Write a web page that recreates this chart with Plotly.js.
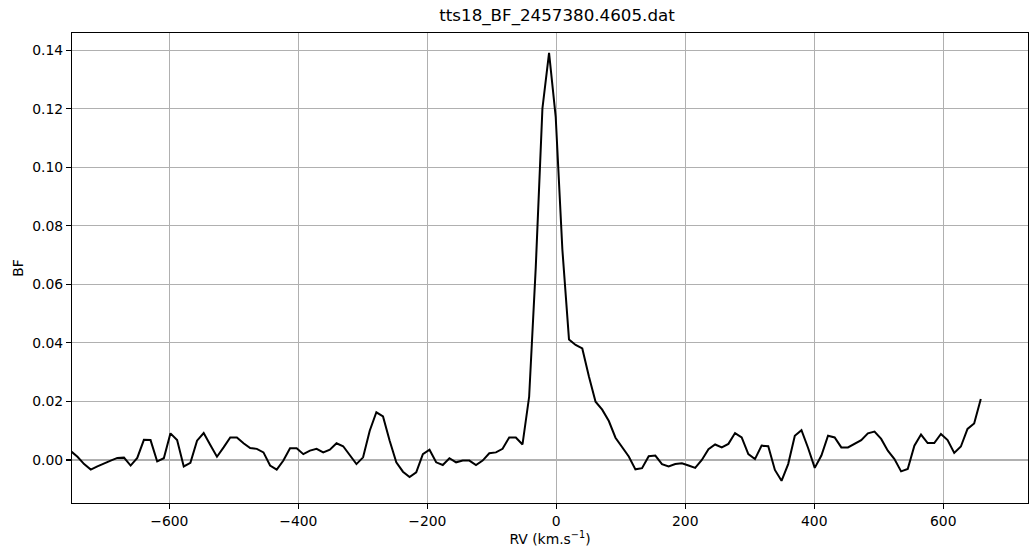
<!DOCTYPE html>
<html>
<head>
<meta charset="utf-8">
<script src="https://cdn.plot.ly/plotly-3.0.1.min.js"></script>
<style>
html,body{margin:0;padding:0;background:#fff;}
#chart{width:1030px;height:553px;}
</style>
</head>
<body>
<div id="chart"></div>
<script>
// Radial velocity grid (km/s)
const rv = [
-752.8,-742.5,-732.2,-721.9,-711.6,-701.3,-691.0,-680.7,-670.4,-660.1,
-649.8,-639.5,-629.2,-618.9,-608.6,-598.3,-588.0,-577.7,-567.4,-557.1,
-546.8,-536.5,-526.2,-515.9,-505.6,-495.3,-485.0,-474.7,-464.4,-454.1,
-443.8,-433.5,-423.2,-412.9,-402.6,-392.3,-382.0,-371.7,-361.4,-351.1,
-340.8,-330.5,-320.2,-309.9,-299.6,-289.3,-279.0,-268.7,-258.4,-248.1,
-237.8,-227.5,-217.2,-206.9,-196.6,-186.3,-176.0,-165.7,-155.4,-145.1,
-134.8,-124.5,-114.2,-103.9,-93.6,-83.3,-73.0,-62.7,-52.4,-42.1,
-31.8,-21.5,-11.2,-0.9,9.4,19.7,30.0,40.3,50.6,60.9,
71.2,81.5,91.8,102.1,112.4,122.7,133.0,143.3,153.6,163.9,
174.2,184.5,194.8,205.1,215.4,225.7,236.0,246.3,256.6,266.9,
277.2,287.5,297.8,308.1,318.4,328.7,339.0,349.3,359.6,369.9,
380.2,390.5,400.8,411.1,421.4,431.7,442.0,452.3,462.6,472.9,
483.2,493.5,503.8,514.1,524.4,534.7,545.0,555.3,565.6,575.9,
586.2,596.5,606.8,617.1,627.4,637.7,648.0,658.3
];

// Broadening function values
const bf = [
0.0030,0.0011,-0.0014,-0.0033,-0.0022,-0.0011,-0.0002,0.0007,0.0008,-0.0019,
0.0007,0.0069,0.0068,-0.0005,0.0006,0.0091,0.0068,-0.0022,-0.0010,0.0066,
0.0092,0.0051,0.0011,0.0043,0.0077,0.0077,0.0057,0.0041,0.0038,0.0026,
-0.0019,-0.0033,-0.0002,0.0040,0.0040,0.0020,0.0032,0.0038,0.0026,0.0035,
0.0057,0.0047,0.0015,-0.0014,0.0009,0.0100,0.0163,0.0149,0.0066,-0.0008,
-0.0040,-0.0058,-0.0042,0.0020,0.0035,-0.0008,-0.0017,0.0006,-0.0008,-0.0002,
-0.0002,-0.0017,-0.0002,0.0023,0.0026,0.0038,0.0077,0.0077,0.0053,0.0216,
0.0660,0.1201,0.1391,0.1172,0.0720,0.0412,0.0393,0.0381,0.0285,0.0199,
0.0172,0.0133,0.0076,0.0042,0.0012,-0.0032,-0.0028,0.0013,0.0015,-0.0014,
-0.0022,-0.0014,-0.0011,-0.0019,-0.0027,0.0000,0.0037,0.0053,0.0043,0.0055,
0.0092,0.0077,0.0020,0.0003,0.0049,0.0047,-0.0034,-0.0071,-0.0014,0.0083,
0.0102,0.0041,-0.0027,0.0015,0.0083,0.0077,0.0043,0.0043,0.0055,0.0068,
0.0091,0.0097,0.0072,0.0032,0.0003,-0.0039,-0.0031,0.0049,0.0087,0.0058,
0.0058,0.0089,0.0068,0.0024,0.0046,0.0106,0.0125,0.0208
];

const xTickVals = [-600, -400, -200, 0, 200, 400, 600];
const xTickText = ['\u2212600', '\u2212400', '\u2212200', '0', '200', '400', '600'];
const yTickVals = [0.00, 0.02, 0.04, 0.06, 0.08, 0.10, 0.12, 0.14];
const yTickText = ['0.00', '0.02', '0.04', '0.06', '0.08', '0.10', '0.12', '0.14'];

const FONT = 'DejaVu Sans, sans-serif';

const trace = {
  x: rv, y: bf, type: 'scatter', mode: 'lines',
  line: {color: '#000000', width: 2},
  hoverinfo: 'skip'
};

const layout = {
  width: 1030, height: 553,
  paper_bgcolor: '#ffffff', plot_bgcolor: '#ffffff',
  margin: {l: 72, r: 2, t: 33, b: 50, pad: 0},
  showlegend: false,
  font: {family: FONT, size: 13.9, color: '#000000'},
  title: {
    text: 'tts18_BF_2457380.4605.dat',
    font: {family: FONT, size: 16.7, color: '#000000'},
    x: 557/1030, xref: 'container', xanchor: 'center',
    y: 1 - 15/553, yref: 'container', yanchor: 'middle'
  },
  xaxis: {
    range: [-751, 731.5],
    tickmode: 'array', tickvals: xTickVals, ticktext: xTickText,
    ticks: 'outside', ticklen: 5, tickwidth: 1.1, tickcolor: '#000000',
    showgrid: true, gridcolor: '#b0b0b0', gridwidth: 1.1,
    zeroline: false,
    showline: true, linecolor: '#000000', linewidth: 1.1, mirror: true,
    tickfont: {family: FONT, size: 13.9, color: '#000000'},
    title: {text: 'RV (km.s<sup>\u22121</sup>)', font: {family: FONT, size: 13.9, color: '#000000'}, standoff: 6},
    automargin: false
  },
  yaxis: {
    range: [-0.0147, 0.1459],
    tickmode: 'array', tickvals: yTickVals, ticktext: yTickText,
    ticks: 'outside', ticklen: 5, tickwidth: 1.1, tickcolor: '#000000',
    showgrid: true, gridcolor: '#b0b0b0', gridwidth: 1.1,
    zeroline: false,
    showline: true, linecolor: '#000000', linewidth: 1.1, mirror: true,
    tickfont: {family: FONT, size: 13.9, color: '#000000'},
    title: {text: 'BF', font: {family: FONT, size: 13.9, color: '#000000'}, standoff: 5},
    automargin: false
  }
};

Plotly.newPlot('chart', [trace], layout, {displayModeBar: false, staticPlot: true});
</script>
</body>
</html>
